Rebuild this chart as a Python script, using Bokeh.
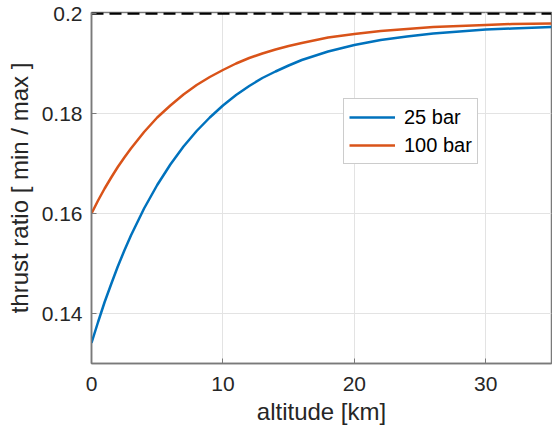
from bokeh.plotting import figure
from bokeh.models import Range1d, FixedTicker, Legend, LegendItem
from bokeh.embed import file_html
from bokeh.resources import INLINE

# ---- data ----
altitude_km = [0, 0.5, 1, 1.5, 2, 2.5, 3, 4, 5, 6, 7, 8, 9, 10, 11, 12, 13, 14, 15, 16,
               18, 20, 22, 24, 26, 28, 30, 32, 35]
ratio_25bar = [0.1341, 0.1383, 0.1423, 0.1459, 0.1494, 0.1526, 0.1556, 0.1610, 0.1657,
               0.1698, 0.1734, 0.1765, 0.1792, 0.1816, 0.1837, 0.1855, 0.1871, 0.1884,
               0.1896, 0.1907, 0.1924, 0.1937, 0.1947, 0.1954, 0.1960, 0.1964, 0.1968,
               0.1970, 0.1973]
ratio_100bar = [0.1600, 0.1626, 0.1650, 0.1672, 0.1693, 0.1712, 0.1730, 0.1763, 0.1792,
                0.1816, 0.1838, 0.1857, 0.1873, 0.1887, 0.1900, 0.1911, 0.1920, 0.1928,
                0.1935, 0.1941, 0.1952, 0.1959, 0.1965, 0.1969, 0.1973, 0.1975, 0.1977,
                0.1979, 0.1980]
limit_x = [0, 35]
limit_y = [0.2, 0.2]
x_ticks = [0, 10, 20, 30]
y_ticks = [0.14, 0.16, 0.18, 0.2]
series_labels = ["25 bar", "100 bar"]

FONT = "Liberation Sans"
TXT = "#262626"
AX = "#7a7a7a"

p = figure(width=552, height=435, output_backend="svg", toolbar_location=None,
           x_range=Range1d(0, 35), y_range=Range1d(0.13, 0.2002),
           min_border_left=91, min_border_right=1, min_border_top=12, min_border_bottom=72)

p.background_fill_color = "white"
p.border_fill_color = "white"
p.outline_line_color = AX
p.outline_line_width = 1.5

for ax in (p.xaxis[0], p.yaxis[0]):
    ax.axis_line_color = AX
    ax.axis_line_width = 1.5
    ax.major_tick_line_color = AX
    ax.major_tick_in = 5
    ax.major_tick_out = 0
    ax.minor_tick_line_color = None
    ax.major_label_text_font = FONT
    ax.major_label_text_font_size = "21px"
    ax.major_label_text_color = TXT
    ax.axis_label_text_font = FONT
    ax.axis_label_text_font_size = "24px"
    ax.axis_label_text_font_style = "normal"
    ax.axis_label_text_color = TXT

p.xaxis.ticker = FixedTicker(ticks=x_ticks)
p.yaxis.ticker = FixedTicker(ticks=y_ticks)
p.yaxis.formatter.use_scientific = False
p.xaxis.axis_label = "altitude [km]"
p.yaxis.axis_label = "thrust ratio [ min / max ]"
p.xaxis.major_label_standoff = 13
p.yaxis.major_label_standoff = 9
p.xaxis.axis_label_standoff = 4
p.yaxis.axis_label_standoff = 6

p.grid.grid_line_color = "#e3e3e3"
p.grid.grid_line_width = 1

r25 = p.line(altitude_km, ratio_25bar, line_color="#0072BD", line_width=2.5)
r100 = p.line(altitude_km, ratio_100bar, line_color="#D95319", line_width=2.5)
p.line(limit_x, limit_y, line_color="black", line_width=2.5, line_dash="12 6")

legend = Legend(items=[LegendItem(label=series_labels[0], renderers=[r25]),
                       LegendItem(label=series_labels[1], renderers=[r100])],
                location=(252, 199))
legend.label_text_font = FONT
legend.label_text_font_size = "20px"
legend.label_text_color = "black"
legend.border_line_color = "#999999"
legend.border_line_width = 1.5
legend.background_fill_alpha = 1
legend.glyph_width = 46
legend.glyph_height = 26
legend.label_height = 26
legend.label_standoff = 9
legend.spacing = 2
legend.padding = 5
legend.margin = 0
p.add_layout(legend, "center")

open("out.html", "w").write(file_html(p, INLINE))
